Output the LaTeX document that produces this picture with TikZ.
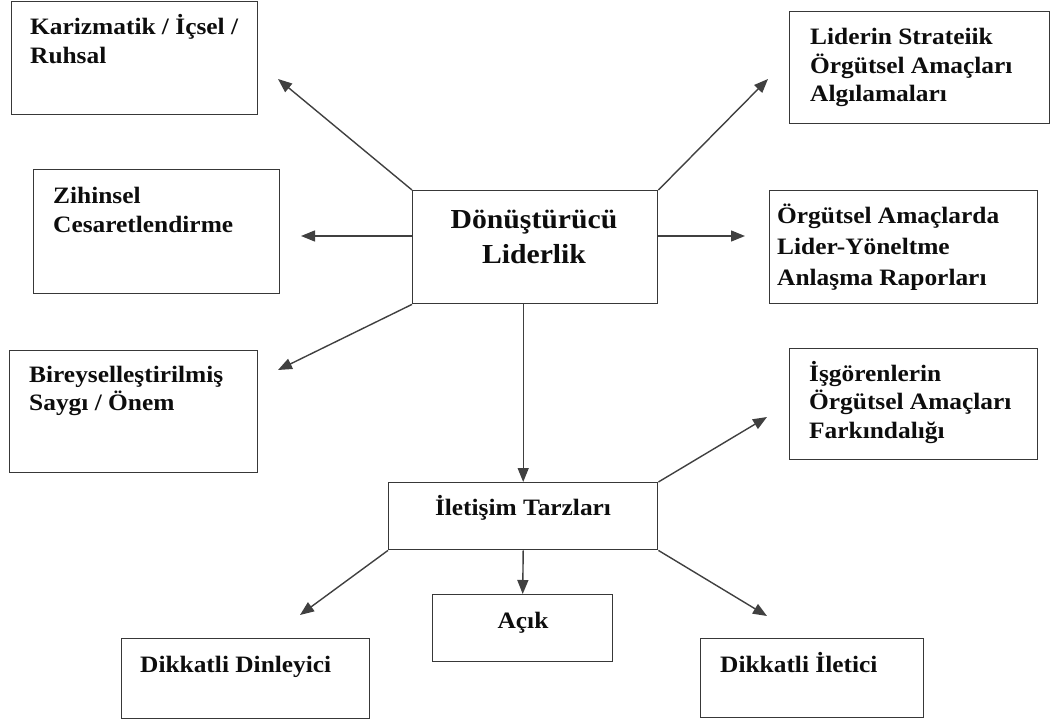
\documentclass[tikz,border=0pt]{standalone}
\usepackage{fontspec}
\setmainfont{Liberation Serif}[FakeStretch=1.08]
\usetikzlibrary{arrows.meta}
\begin{document}
\begin{tikzpicture}[x=1pt,y=-1pt,
  box/.style={draw=black!78, line width=1.4pt, inner sep=0pt, anchor=north west},
  txt/.style={inner sep=0pt, anchor=base west, text=black!95},
  ctxt/.style={inner sep=0pt, anchor=base, text=black!95},
  arr/.style={draw=black!75, line width=1.4pt, -{Triangle[length=14pt,width=11pt]}}]
\useasboundingbox (0,0) rectangle (1051,722);
\newcommand\tl[2]{\parbox[t]{240pt}{\fontsize{23.5pt}{#1}\selectfont\bfseries #2}}
\newcommand\tc[3]{\parbox[t]{#1}{\centering\fontsize{#2}{35pt}\selectfont\bfseries #3}}
% boxes
\node[box, minimum width=246pt, minimum height=113pt] (K) at (11,1) {};
\node[box, minimum width=246pt, minimum height=124pt] (Z) at (33,169) {};
\node[box, minimum width=248pt, minimum height=122pt] (B) at (9,350) {};
\node[box, minimum width=245pt, minimum height=113pt] (D) at (412,190) {};
\node[box, minimum width=260pt, minimum height=112pt] (L) at (789,11) {};
\node[box, minimum width=268pt, minimum height=113pt] (O) at (769,190) {};
\node[box, minimum width=248pt, minimum height=111pt] (I) at (789,348) {};
\node[box, minimum width=269pt, minimum height=67pt] (T) at (388,482) {};
\node[box, minimum width=180pt, minimum height=67pt] (A) at (432,594) {};
\node[box, minimum width=248pt, minimum height=80pt] (DD) at (121,638) {};
\node[box, minimum width=223pt, minimum height=79pt] (DI) at (700,638) {};
% texts
\node[txt] (Kt) at (30,35) {\tl{29pt}{Karizmatik / İçsel /\\Ruhsal}};
\node[txt] (Zt) at (53,203) {\tl{29pt}{Zihinsel\\Cesaretlendirme}};
\node[txt] (Bt) at (29,382) {\tl{28pt}{Bireyselleştirilmiş\\Saygı / Önem}};
\node[ctxt] (Dt) at (534,228) {\tc{240pt}{27.5pt}{Dönüştürücü\\Liderlik}};
\node[txt] (Lt) at (810,45) {\tl{28.5pt}{Liderin Strateiik\\Örgütsel Amaçları\\Algılamaları}};
\node[txt] (Ot) at (777,223) {\tl{31pt}{Örgütsel Amaçlarda\\Lider-Yöneltme\\Anlaşma Raporları}};
\node[txt] (It) at (809,381) {\tl{28.5pt}{İşgörenlerin\\Örgütsel Amaçları\\Farkındalığı}};
\node[ctxt] (Tt) at (523,515) {\tc{260pt}{23.5pt}{İletişim Tarzları}};
\node[ctxt] (At) at (523,628) {\tc{170pt}{23.5pt}{Açık}};
\node[txt] (DDt) at (140,672) {\tl{29pt}{Dikkatli Dinleyici}};
\node[txt] (DIt) at (720,672) {\tl{29pt}{Dikkatli İletici}};
% free arrow ends
\coordinate (eK) at (278,79);
\coordinate (eZ) at (301,236);
\coordinate (eB) at (278,370);
\coordinate (eL) at (768,79);
\coordinate (eO) at (745,236);
\coordinate (eI) at (767,417);
\coordinate (eDI) at (767,616);
\coordinate (eDD) at (300,615);
% connectors
\draw[arr] (D.north west) -- (eK);
\draw[arr] (D.west |- eZ) -- (eZ);
\draw[arr] (D.south west) -- (eB);
\draw[arr] (D.north east) -- (eL);
\draw[arr] (D.east |- eO) -- (eO);
\draw[arr] (T.north |- D.south) -- (T.north);
\draw[arr] (T.north east) -- (eI);
\draw[arr] (T.south east) -- (eDI);
\draw[arr] (T.south west) -- (eDD);
\draw[arr] (T.south) -- (A.north);
\end{tikzpicture}
\end{document}
